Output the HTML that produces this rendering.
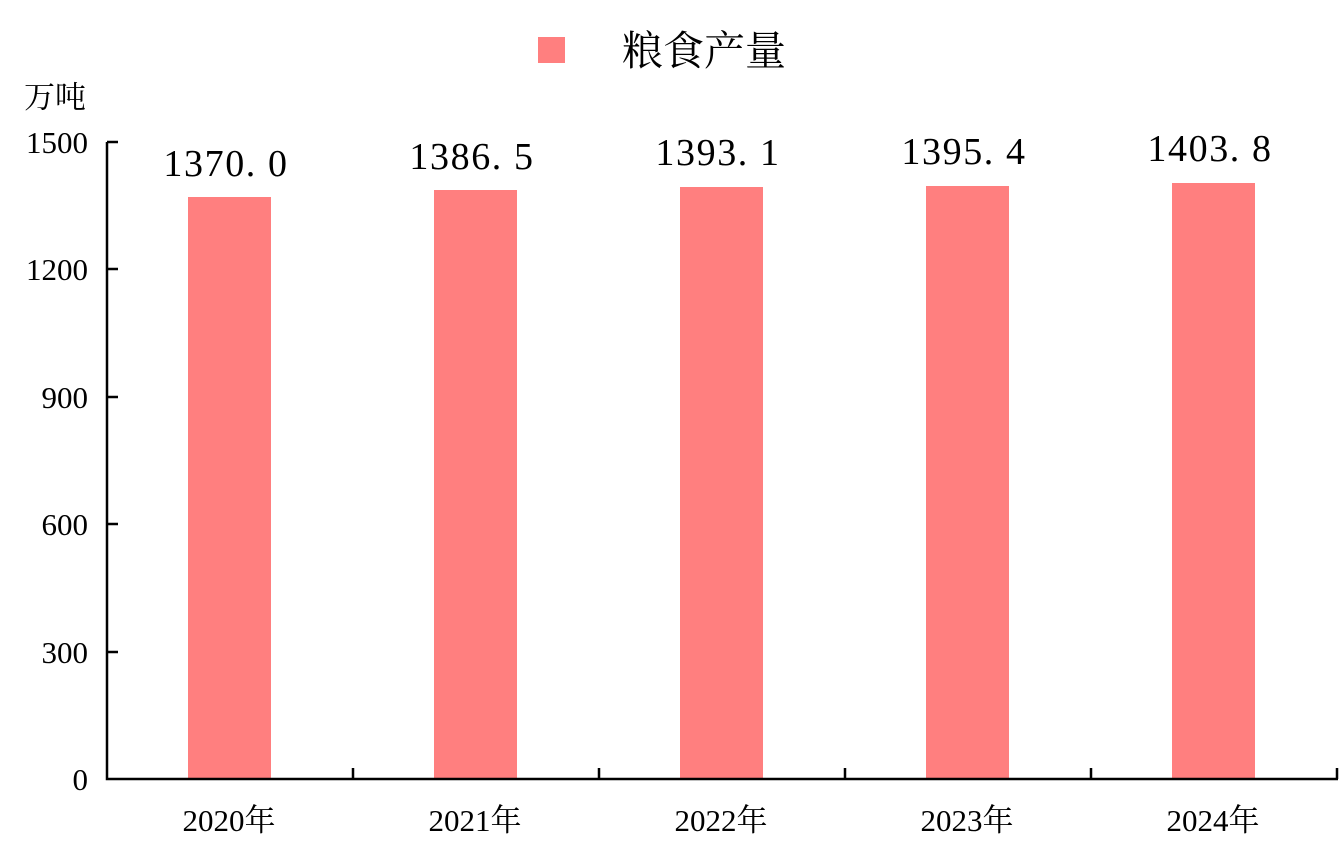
<!DOCTYPE html>
<html><head><meta charset="utf-8"><style>
body{margin:0;background:#fff}
svg{display:block}
.s{font-family:"Liberation Serif","Noto Serif CJK SC",serif;fill:#000}
</style></head><body>
<svg width="1342" height="866" xmlns="http://www.w3.org/2000/svg">
<rect x="538" y="37" width="27" height="26" fill="#FF7F7F"/>
<text class="s" x="622" y="65" font-size="41">粮食产量</text>
<text class="s" x="24" y="108" font-size="31">万吨</text>
<g class="s" font-size="31" text-anchor="end">
<text x="88" y="153">1500</text>
<text x="88" y="280">1200</text>
<text x="88" y="408">900</text>
<text x="88" y="535">600</text>
<text x="88" y="663">300</text>
<text x="88" y="790">0</text>
</g>
<g fill="#FF7F7F">
<rect x="188" y="197" width="83" height="582"/>
<rect x="434" y="190" width="83" height="589"/>
<rect x="680" y="187" width="83" height="592"/>
<rect x="926" y="186" width="83" height="593"/>
<rect x="1172" y="183" width="83" height="596"/>
</g>
<g class="s" font-size="38" text-anchor="middle" letter-spacing="1.6">
<text x="226" y="176">1370. 0</text>
<text x="472" y="169">1386. 5</text>
<text x="718" y="165">1393. 1</text>
<text x="964" y="164">1395. 4</text>
<text x="1210" y="161">1403. 8</text>
</g>
<g stroke="#000" stroke-width="2.5" fill="none">
<path d="M107 142V779H1338"/>
<path d="M107 142H118M107 269H118M107 397H118M107 524H118M107 652H118"/>
<path d="M353 768V779M599 768V779M845 768V779M1091 768V779M1337 768V779"/>
</g>
<g class="s" font-size="31" text-anchor="middle">
<text x="229" y="831">2020年</text>
<text x="475" y="831">2021年</text>
<text x="721" y="831">2022年</text>
<text x="967" y="831">2023年</text>
<text x="1213" y="831">2024年</text>
</g>
</svg>
</body></html>
